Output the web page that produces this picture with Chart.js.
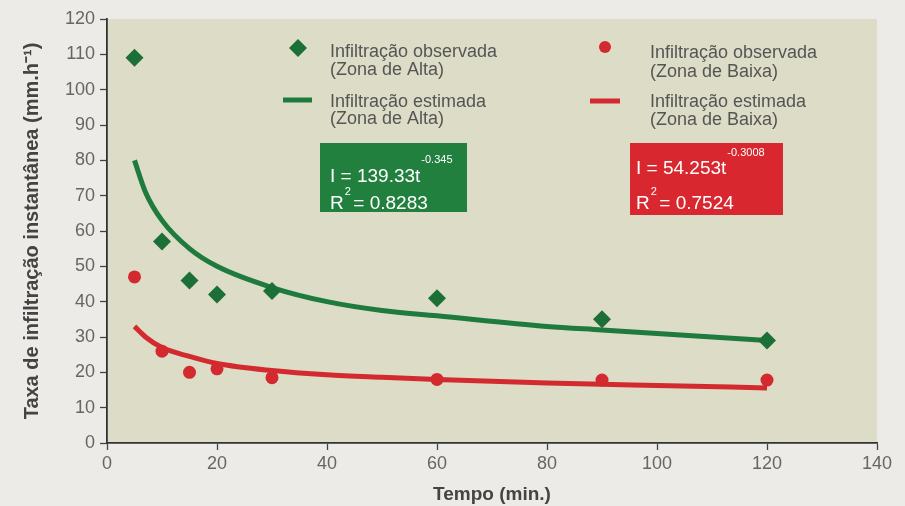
<!DOCTYPE html>
<html><head><meta charset="utf-8">
<script src="https://cdn.jsdelivr.net/npm/chart.js@4/dist/chart.umd.min.js"></script>
<style>html,body{margin:0;padding:0;background:#ecebe7;}canvas{display:block}</style>
</head><body>
<canvas id="c" width="905" height="506"></canvas>
<script>
// ---- data ----
const tempoObs  = [5, 10, 15, 20, 30, 60, 90, 120];
const altaObs   = [109, 57, 46, 42, 43, 41, 35, 29];
const baixaObs  = [47, 26, 20, 21, 18.5, 18, 17.8, 17.8];
const tempoEst  = [5, 7, 10, 15, 20, 30, 40, 50, 60, 80, 90, 100, 120];
const altaEst   = [80, 71, 63, 55, 50, 44, 40, 37.5, 36, 33, 32, 31, 29];
const baixaEst  = [33, 30, 27, 24.5, 22.5, 20.5, 19.3, 18.6, 18, 17, 16.6, 16.3, 15.6];
const xTicks = [0, 20, 40, 60, 80, 100, 120, 140];
const yTicks = [0, 10, 20, 30, 40, 50, 60, 70, 80, 90, 100, 110, 120];
const seriesNames = ['Infiltração observada', 'Infiltração estimada'];
const zoneNames = ['(Zona de Alta)', '(Zona de Baixa)'];
const eqAlta = ['I = 139.33t', '-0.345', '0.8283'];
const eqBaixa = ['I = 54.253t', '-0.3008', '0.7524'];
const xTitle = 'Tempo (min.)';
const yTitle = 'Taxa de infiltração instantânea (mm.h⁻¹)';

const GREEN = '#1d6f38', GREEN_LINE = '#1f7a3d', RED = '#d32a30';
const FONT = '"Liberation Sans", Arial, sans-serif';

const pts = (xs, ys) => xs.map((x, i) => ({x, y: ys[i]}));

const bgPlugin = {
  id: 'bg',
  beforeDraw(chart) {
    const {ctx, chartArea: a, width, height} = chart;
    ctx.save();
    ctx.fillStyle = '#ecebe7';
    ctx.fillRect(0, 0, width, height);
    ctx.fillStyle = '#dcdcc7';
    ctx.fillRect(a.left, a.top, a.right - a.left, a.bottom - a.top);
    ctx.restore();
  }
};

function supText(ctx, base, sup, x, y, baseFont, supFont, dy) {
  ctx.font = baseFont;
  ctx.fillText(base, x, y);
  const w = ctx.measureText(base).width;
  ctx.font = supFont;
  ctx.fillText(sup, x + w + 1, y - dy);
}

const legendPlugin = {
  id: 'customLegend',
  afterDraw(chart) {
    const ctx = chart.ctx;
    ctx.save();
    // markers
    ctx.fillStyle = GREEN;
    ctx.beginPath();
    ctx.moveTo(298, 39); ctx.lineTo(307, 48); ctx.lineTo(298, 57); ctx.lineTo(289, 48); ctx.closePath();
    ctx.fill();
    ctx.strokeStyle = GREEN_LINE; ctx.lineWidth = 5;
    ctx.beginPath(); ctx.moveTo(283, 100); ctx.lineTo(312, 100); ctx.stroke();
    ctx.fillStyle = RED;
    ctx.beginPath(); ctx.arc(605, 47, 6, 0, Math.PI * 2); ctx.fill();
    ctx.strokeStyle = RED;
    ctx.beginPath(); ctx.moveTo(590, 101); ctx.lineTo(620, 101); ctx.stroke();
    // texts
    ctx.fillStyle = '#555555';
    ctx.font = '18px ' + FONT;
    ctx.textBaseline = 'middle';
    ctx.textAlign = 'left';
    ctx.fillText(seriesNames[0], 330, 52);
    ctx.fillText(zoneNames[0], 330, 70);
    ctx.fillText(seriesNames[1], 330, 102);
    ctx.fillText(zoneNames[0], 330, 119);
    ctx.fillText(seriesNames[0], 650, 53);
    ctx.fillText(zoneNames[1], 650, 72);
    ctx.fillText(seriesNames[1], 650, 102);
    ctx.fillText(zoneNames[1], 650, 120);
    // equation boxes
    ctx.fillStyle = '#22803f';
    ctx.fillRect(320, 143, 147, 69);
    ctx.fillStyle = '#d8272f';
    ctx.fillRect(630, 143, 153, 72);
    ctx.fillStyle = '#ffffff';
    ctx.textBaseline = 'alphabetic';
    const bf = '19px ' + FONT, sf = '11px ' + FONT;
    supText(ctx, eqAlta[0], eqAlta[1], 330, 182, bf, sf, 19);
    supText(ctx, 'R', '2', 330, 209, bf, sf, 14);
    ctx.font = bf; ctx.fillText(' = ' + eqAlta[2], 348, 209);
    supText(ctx, eqBaixa[0], eqBaixa[1], 636, 174, bf, sf, 18);
    supText(ctx, 'R', '2', 636, 209, bf, sf, 14);
    ctx.font = bf; ctx.fillText(' = ' + eqBaixa[2], 654, 209);
    ctx.restore();
  }
};

new Chart(document.getElementById('c'), {
  type: 'scatter',
  data: {
    datasets: [
      { label: seriesNames[0] + ' ' + zoneNames[0], data: pts(tempoObs, altaObs),
        pointStyle: 'rectRot', pointRadius: 9, pointHoverRadius: 9,
        backgroundColor: GREEN, borderColor: GREEN, borderWidth: 0 },
      { label: seriesNames[0] + ' ' + zoneNames[1], data: pts(tempoObs, baixaObs),
        pointStyle: 'circle', pointRadius: 6.5, pointHoverRadius: 6.5,
        backgroundColor: RED, borderColor: RED, borderWidth: 0 },
      { label: seriesNames[1] + ' ' + zoneNames[0], data: pts(tempoEst, altaEst),
        showLine: true, pointRadius: 0, borderColor: GREEN_LINE, borderWidth: 5,
        cubicInterpolationMode: 'monotone', fill: false },
      { label: seriesNames[1] + ' ' + zoneNames[1], data: pts(tempoEst, baixaEst),
        showLine: true, pointRadius: 0, borderColor: RED, borderWidth: 5,
        cubicInterpolationMode: 'monotone', fill: false }
    ]
  },
  options: {
    responsive: false,
    animation: false,
    devicePixelRatio: 1,
    layout: { padding: { top: 19, right: 28, left: 0, bottom: 0 } },
    plugins: { legend: { display: false }, tooltip: { enabled: false } },
    scales: {
      x: {
        type: 'linear', min: xTicks[0], max: xTicks[xTicks.length - 1],
        afterBuildTicks: s => { s.ticks = xTicks.map(v => ({value: v})); },
        afterFit: s => { s.height = 63; },
        grid: { drawOnChartArea: false, drawTicks: true, tickLength: 7, tickColor: '#444', tickWidth: 1.3 },
        border: { display: true, color: '#333', width: 1.8 },
        ticks: { color: '#666', padding: 3, font: { family: FONT, size: 18 } },
        title: { display: true, text: xTitle, color: '#444', padding: { top: 0, bottom: 0 },
                 font: { family: FONT, size: 19, weight: 'bold' } }
      },
      y: {
        type: 'linear', min: yTicks[0], max: yTicks[yTicks.length - 1],
        afterBuildTicks: s => { s.ticks = yTicks.map(v => ({value: v})); },
        afterFit: s => { s.width = 107; },
        grid: { drawOnChartArea: false, drawTicks: true, tickLength: 7, tickColor: '#444', tickWidth: 1.3 },
        border: { display: true, color: '#333', width: 1.8 },
        ticks: { color: '#666', padding: 5, font: { family: FONT, size: 18 } },
        title: { display: true, text: yTitle, color: '#444', padding: { top: 20, bottom: 0 },
                 font: { family: FONT, size: 20, weight: 'bold' } }
      }
    }
  },
  plugins: [bgPlugin, legendPlugin]
});
</script>
</body></html>
